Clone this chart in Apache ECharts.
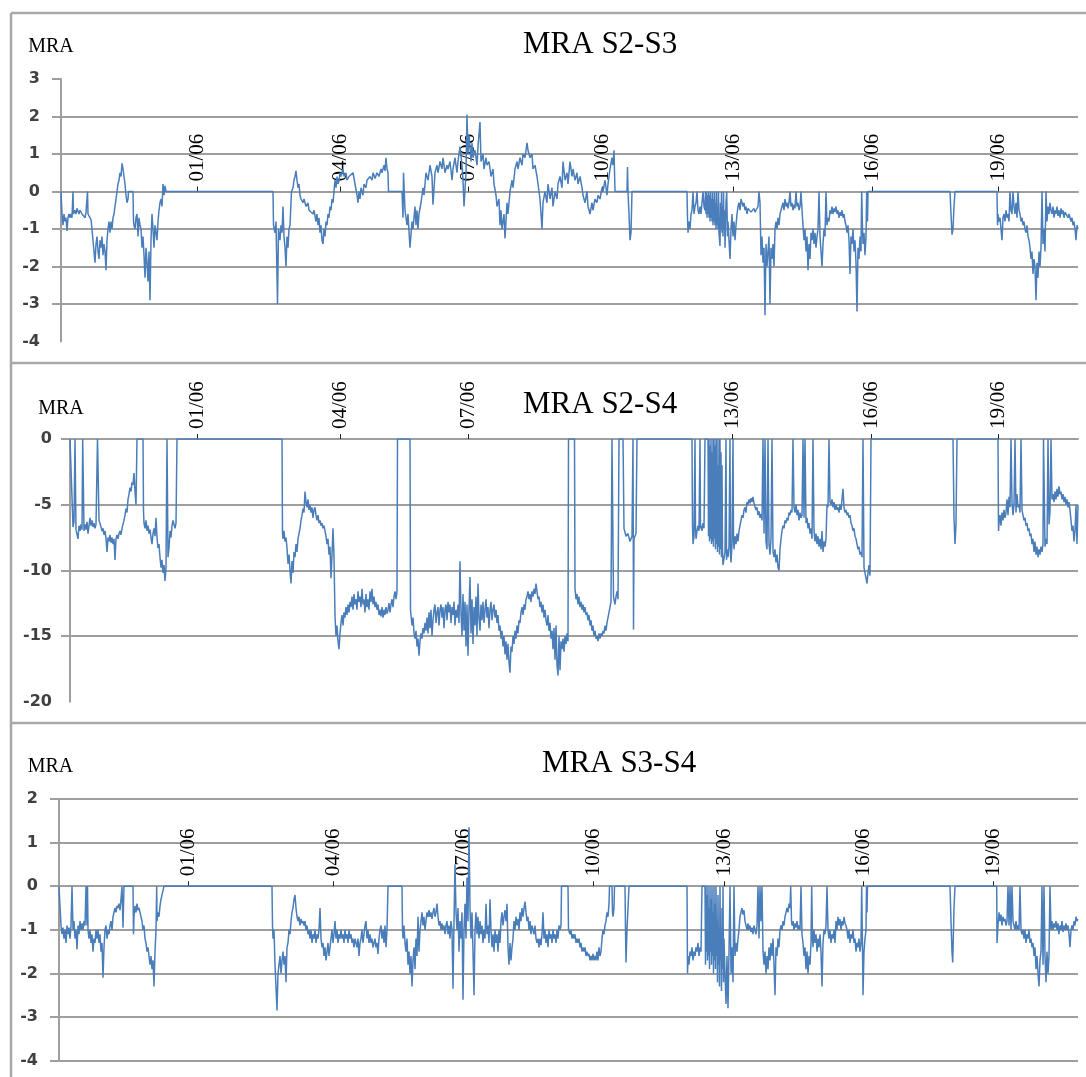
<!DOCTYPE html>
<html>
<head>
<meta charset="utf-8">
<script src="https://cdn.jsdelivr.net/npm/echarts@6/dist/echarts.min.js"></script>
<style>
html,body{margin:0;padding:0;background:#fff;}
#chart{width:1086px;height:1077px;}
</style>
</head>
<body>
<div id="chart"></div>
<script>
// ---- data ----
const titles = ['MRA S2-S3', 'MRA S2-S4', 'MRA S3-S4'];
const yName = 'MRA';
const dayLabels = ['01/06', '04/06', '07/06', '10/06', '13/06', '16/06', '19/06'];
// sample index of the first sample of each labelled day, per series
const dayIdx23 = [136, 279, 407, 541, 672, 811, 937];
const dayIdx24 = [127, 270, 398, 532, 662, 801, 928];
const dayIdx34 = [129, 274, 404, 534, 665, 804, 934];
// day labels hidden behind the chart title (middle panel)
const hiddenDays = [[], ['10/06'], []];
const sampleCount = [1017, 1008, 1019];
const yMin = [-4, -20, -4];
const yMax = [3, 0, 2];
const yStep = [1, 5, 1];

// [sample index, MRA]
const s23 = [
[0,0],[1,-0.6],[2,-0.9],[3,-0.6],[4,-0.8],[5,-0.7],[6,-1.05],[7,-0.7],[8,-0.6],[9,-0.7],[10,-0.6],[11,-0.7],[12,0],[12.5,-0.6],[14,-0.5],[15,-0.6],[16,-0.45],[18,-0.6],[19,-0.5],[21,-0.6],[22,-0.55],[24,-0.7],[25,-0.55],[26,-0.5],[26.5,0],[27,-0.6],[29,-0.65],[30,-0.75],[31,-1.0],[32,-1.3],[33,-1.6],[34,-1.9],[35,-1.4],[36,-1.2],[37,-1.6],[38,-1.8],[39,-1.3],[40,-1.5],[41,-1.2],[42,-1.7],[43,-1.4],[44,-1.6],[45,-2.1],[46,-1.3],[47,-1.0],[48,-0.8],[49,-1.1],[50,-0.8],[51,-1.0],[52,-0.7],[53,-0.6],[54,-0.4],[55,-0.2],[56,0],[57,0.2],[58,0.3],[59,0.5],[60,0.4],[61,0.75],[62,0.6],[63,0.4],[64,0.2],[65,-0.1],[66,-0.3],[67,-0.2],[67.5,0],[72,0],[72.5,-0.8],[73,-0.9],[74,-1.0],[75,-0.7],[76,-0.6],[77,-1.2],[78,-0.7],[79,-0.9],[80,-1.0],[81,-1.5],[82,-1.2],[83,-1.7],[84,-2.3],[85,-1.5],[86,-1.9],[87,-2.4],[88,-1.6],[89,-2.9],[90,-1.3],[91,-0.6],[92,-1.0],[93,-1.5],[94,-0.9],[95,-1.1],[96,-1.3],[97,-0.8],[98,-0.5],[99,-0.3],[100,-0.2],[101,-0.4],[102,0.2],[103,-0.1],[104,0.15],[105,0],
[212,0],[212.5,-0.9],[214,-1.1],[215,-0.8],[216.5,-3.0],[217.5,-1.0],[219,-1.3],[220,-0.9],[221,-1.1],[222,-0.4],[223,-1.2],[224,-1.5],[225,-2.0],[226,-1.2],[227,-1.5],[228,-1.0],[229,-0.9],[230,-0.9],[230.5,0],[232,0.1],[233,0.3],[234,0.4],[235,0.55],[236,0.3],[237,0.1],[238,0.2],[239,-0.1],[240,-0.2],[242,-0.3],[243,-0.2],[245,-0.4],[247,-0.3],[248,-0.5],[250,-0.45],[252,-0.6],[253,-0.5],[255,-0.8],[256,-0.6],[257,-0.9],[258,-0.7],[259,-1.1],[260,-0.9],[261,-1.3],[262,-1.4],[263,-1.0],[264,-1.2],[265,-0.8],[266,-0.9],[267,-0.6],[268,-0.7],[269,-0.4],[270,-0.5],[271,-0.2],[272,-0.3],[273,0],[274,0.3],[275,0.1],[276,0.4],[277,0.2],[278,0.3],[279,0.5],[280,0.4],[282,0.6],[283,0.4],[285,0.5],[286,0.3],[288,0.4],[290,0.35],[292,0.5],[294,0.2],[296,-0.1],[297,-0.3],[298,0],[299,-0.2],[300,0.1],[302,-0.1],[303,0.2],[305,0.1],[306,0.3],[308,0.25],[309,0.4],[311,0.3],[312,0.5],[314,0.35],[316,0.5],[318,0.4],[320,0.6],[321,0.5],[323,0.7],[324,0.55],[325,0.9],[326,0.6],[327,0.5],[327.5,0],
[341,0],[342,-0.7],[342.5,0.5],[344,-0.5],[346,-0.9],[347,-0.6],[349,-1.5],[351,-0.8],[352,-1.0],[354,-0.4],[355,-0.9],[356,-0.5],[357,-1.0],[358,-0.6],[360,-0.3],[362,0.1],[363,-0.1],[365,0.5],[367,0.3],[369,0.7],[371,0.4],[372,-0.35],[374,0.5],[376,0.7],[377,0.5],[379,0.8],[381,0.6],[382,0.9],[384,0.5],[386,0.7],[387,0.6],[389,0.8],[391,0.3],[392,0.6],[394,0.9],[396,0.5],[397,0.8],[399,1.2],[401,0.7],[402,0.3],[403,-0.4],[405,0.5],[406,2.05],[407,1.0],[408,1.5],[410,0.8],[411,1.3],[412,0.9],[414,1.1],[416,0.7],[417,1.2],[419,1.85],[420,0.8],[422,1.0],[423,0.6],[425,0.9],[426,0.7],[428,0.8],[430,0.4],[432,0.6],[433,0.2],[435,-0.1],[436,-0.4],[438,-0.2],[439,-0.9],[440,-0.5],[441,-1.0],[443,-0.6],[444,-1.25],[446,-0.3],[447,-0.6],[449,0],[451,0.3],[452,0.1],[454,0.6],[456,0.8],[457,0.6],[459,0.9],[461,0.7],[462,1.0],[464,0.9],[466,1.3],[467,1.1],[469,0.9],[471,1.0],[472,0.6],[474,0.7],[476,0.4],[477,0.2],[479,-0.2],[481,-1.0],[482,-0.3],[484,0],[486,-0.3],[487,0.2],[489,-0.2],[491,0.1],[492,-0.4],[494,0],[496,-0.2],[497,0.2],[499,0.4],[501,0.1],[502,0.8],[504,0.3],[506,0.5],[507,0.2],[509,0.8],[511,0.4],[512,0.6],[514,0.3],[516,0.5],[517,0.2],[519,0.4],[521,0.1],[522,-0.1],[524,-0.3],[526,0],[527,-0.4],[529,-0.6],[531,-0.3],[532,-0.5],[534,-0.2],[536,-0.3],[537,-0.1],[539,-0.2],[541,0.1],[542,0],[544,0.3],[546,-0.1],[547,0.2],[549,0.6],[551,0.9],[552,0.7],[553,1.1],[554,0],
[566,0],[566.5,0.65],[567,0],[568,-0.6],[569,-1.3],[570,-1.1],[571,0],
[626,0],[626.5,-0.7],[627,-1.1],[628,-0.8],[629,-1.0],[630,-0.6],[631,-0.5],[632,0],[633,-0.6],[634,-0.4],[635,-0.3],[636,0],[637,-0.5],[638,-0.6],[639,-0.4],[640,-0.6],[641,-0.3],[642,0],[643,-0.4],[644,-0.5],[644.5,0],[645,-0.6],[645.5,0],[646,-0.7],[646.5,-0.1],[647,-0.6],[647.5,0],[648,-0.7],[648.5,-0.1],[649,-0.8],[649.5,0],[650,-0.7],[650.5,-0.2],[651,-0.8],[651.5,0],[652,-0.9],[652.5,-0.2],[653,-0.8],[653.5,0],[654,-0.9],[654.5,-0.3],[655,-1.0],[655.5,0],[656,-0.9],[656.5,-0.4],[657,-1.0],[657.5,0],[658,-1.1],[659,-1.45],[659.5,-0.3],[660,-1.0],[660.5,0],[661,-1.1],[661.5,-0.4],[662,-1.2],[662.5,0],[663,-1.0],[663.5,-0.5],[664,-1.5],[665,-0.3],[665.7,0],[666.5,-1.2],[667,-0.8],[668,-1.3],[669,-1.8],[670,-1.0],[671,-0.6],[672,-1.2],[673,-0.8],[674,-1.3],[675,-0.9],[676,-0.6],[677,-0.4],[678,-0.3],[679,-0.5],[680,-0.2],[681,-0.3],[682,-0.4],[683,-0.3],[684,-0.5],[685,-0.4],[686,-0.6],[687,-0.45],[688,-0.5],[689,-0.4],[690,-0.55],[691,-0.5],[692,-0.6],[693,-0.45],[694,-0.55],[695,-0.5],[696,-0.6],[697,-0.4],[698,0],[699,-0.3],[700,-1.7],[701,-1.2],[702,-1.9],[703,-1.5],[704,-3.3],[705,-1.4],[706,-2.0],[707,-1.6],[708,-1.2],[709,-3.0],[710,-1.5],[711,-1.8],[712,-1.4],[713,-2.0],[714,-1.0],[715,-0.8],[716,-1.0],[717,-0.7],[718,-0.9],[719,-0.6],[720,-0.5],[721,-0.4],[722,-0.3],[723,-0.5],[724,-0.2],[725,-0.4],[726,-0.3],[727,-0.45],[728,-0.3],[729,0],[730,-0.4],[731,-0.3],[732,-0.5],[733,-0.35],[734,-0.45],[735,0],[736,-0.4],[737,-0.3],[738,-0.5],[739,-0.4],[740,0],[741,-0.5],[742,-0.9],[743,-1.3],[744,-1.0],[745,-1.6],[746,-1.2],[747,-2.1],[748,-1.4],[749,-1.8],[750,-1.1],[751,-1.3],[752,-1.0],[753,-1.4],[754,-1.1],[755,-1.5],[756,-1.2],[757,-1.0],[758,0],[759,-1.2],[760,-1.6],[761,-2.0],[762,-1.4],[763,-1.0],[764,-1.2],[765,0],[766,-0.9],[767,-0.7],[768,-0.8],[769,-0.5],[770,-0.6],[771,-0.4],[772,-0.6],[773,-0.45],[774,-0.55],[775,-0.4],[776,-0.6],[777,-0.5],[778,-0.7],[779,-0.55],[780,-0.65],[781,-0.5],[782,-0.7],[783,-0.6],[784,-0.8],[785,-0.9],[786,-1.1],[787,-0.9],[788,-1.3],[789,-2.2],[790,-1.2],[791,-1.4],[792,-1.0],[793,-1.6],[794,-1.3],[795,-1.9],[796,-3.2],[797,-1.5],[798,-1.8],[799,-1.2],[800,-1.6],[800.7,0],[801.5,-1.0],[802,-1.4],[803,-1.1],[804,-1.7],[805,-1.2],[805.7,0],[806.5,-0.8],[807,0],
[889,0],[890,-0.6],[891,-1.15],[892,-1.0],[893,-0.4],[894,0],
[936,0],[936.5,-0.9],[937,-0.6],[938,-0.8],[939,-0.7],[940,-1.0],[941,-1.3],[942,-0.7],[943,-0.6],[944,-0.8],[945,-0.5],[946,-0.7],[947,-0.6],[948,-0.8],[949,0],[950,-0.5],[951,-0.6],[952,0],[953,-0.4],[954,-0.6],[955,-0.3],[956,-0.7],[957,0],[958,-0.5],[959,-0.6],[960,-0.8],[961,-0.7],[962,-0.9],[963,-0.8],[964,-1.0],[965,-1.1],[966,-0.9],[967,-1.2],[968,-1.3],[969,-1.5],[970,-1.8],[971,-1.6],[972,-2.2],[973,-1.8],[974,-2.0],[975,-2.9],[976,-1.9],[977,-2.3],[978,-1.6],[979,-2.0],[980,-1.5],[981,0],[982,-1.4],[983,-1.0],[984,-1.6],[985,0],[986,-0.8],[987,-0.4],[988,-0.6],[989,-0.3],[990,-0.5],[991,-0.6],[992,-0.4],[993,-0.7],[994,-0.5],[995,-0.6],[996,-0.4],[997,-0.65],[998,-0.5],[999,-0.7],[1000,-0.45],[1001,-0.6],[1002,-0.5],[1003,-0.7],[1004,-0.55],[1005,-0.6],[1006,-0.5],[1007,-0.7],[1008,-0.6],[1009,-0.7],[1010,-0.8],[1011,-0.7],[1012,-0.9],[1013,-0.8],[1014,-1.0],[1015,-1.3],[1016,-0.9],[1017,-1.0]
];

const s24 = [
[0,0],[2,0],[3,-6.7],[4,-6.3],[5,0],[6,-6.9],[7,-6.8],[8,-7.6],[9,-6.6],[10,-7.0],[11,-6.5],[12,-6.9],[12.7,0],[13.3,0],[14,-7.0],[15,-6.5],[16,-6.9],[17,-6.3],[18,-7.2],[19,-6.6],[20,-6.0],[21,-6.6],[22,-6.2],[23,-6.7],[24,-6.4],[25,-6.8],[26,-6.5],[27,-6.6],[27.5,0],[28.5,0],[29,-6.2],[30,-6.4],[31,-6.7],[32,-7.0],[33,-6.8],[34,-7.3],[35,-7.0],[36,-7.6],[37,-8.6],[38,-7.5],[39,-7.8],[40,-7.3],[41,-7.9],[42,-7.5],[43,-8.0],[44,-7.6],[45,-9.2],[46,-7.6],[47,-7.3],[48,-7.6],[49,-7.2],[50,-7.0],[51,-7.3],[52,-6.8],[53,-6.5],[54,-6.2],[55,-5.8],[56,-5.3],[57,-5.6],[58,-4.6],[59,-4.2],[60,-3.7],[61,-4.0],[62,-3.3],[63,-3.5],[64,-2.6],[65,-4.0],[66,-5.0],[67,0],[73,0],[73.5,-5.5],[74,-6.4],[75,-6.8],[76,-6.2],[77,-7.0],[78,-6.6],[79,-7.2],[80,-6.9],[81,-7.5],[82,-8.0],[83,-7.2],[84,-6.8],[85,-7.4],[86,-6.0],[87,-7.5],[88,-8.3],[89,-8.0],[90,-9.0],[91,-9.8],[92,-9.2],[93,-10.2],[94,-9.6],[95,-10.8],[96,-9.8],[97,0],[98,-9.0],[99,-8.3],[100,-7.0],[101,-7.5],[102,-6.6],[103,-6.2],[104,-6.5],[105,-6.8],[106,-6.4],[107,0],
[212,0],[212.5,-7.2],[213,-7.6],[214,-7.0],[215,-7.8],[216,-7.5],[217,-8.3],[218,-9.5],[219,-8.8],[220,-10.0],[221,-11.0],[222,-9.3],[223,-10.2],[224,-8.6],[225,-9.0],[226,-8.0],[227,-8.6],[228,-7.6],[229,-7.2],[230,-6.8],[231,-6.2],[232,-5.8],[233,-5.3],[234,-5.6],[235,-4.0],[236,-4.8],[237,-5.2],[238,-4.6],[239,-5.4],[240,-5.0],[241,-5.6],[242,-5.2],[243,-6.0],[244,-5.4],[245,-5.2],[246,-5.8],[247,-6.2],[248,-5.8],[249,-6.4],[250,-6.2],[251,-6.6],[252,-6.4],[253,-6.8],[254,-6.6],[255,-7.0],[256,-7.4],[257,-8.0],[258,-7.6],[259,-8.8],[260,-8.2],[261,-10.6],[262,-8.8],[263,-6.8],[264,-9.0],[265,-13.5],[266,-15.0],[267,-14.2],[268,-15.4],[269,-16.0],[270,-14.8],[271,-14.0],[272,-13.4],[273,-14.2],[274,-13.2],[275,-13.6],[276,-12.8],[277,-13.4],[278,-12.6],[279,-13.2],[280,-12.4],[281,-12.8],[282,-12.0],[283,-13.0],[284,-11.8],[285,-12.6],[286,-12.2],[287,-13.0],[288,-11.6],[289,-12.4],[290,-12.0],[291,-12.8],[292,-11.4],[293,-12.6],[294,-12.2],[295,-13.2],[296,-11.8],[297,-12.8],[298,-12.2],[299,-13.0],[300,-11.6],[301,-12.4],[302,-11.4],[303,-12.6],[304,-12.0],[305,-12.8],[306,-12.4],[307,-13.0],[308,-12.6],[309,-13.4],[310,-13.0],[311,-13.5],[312,-12.8],[313,-13.6],[314,-13.0],[315,-13.4],[316,-12.8],[317,-13.3],[318,-13.0],[319,-12.5],[320,-13.2],[321,-12.6],[322,-12.2],[323,-12.8],[324,-12.0],[325,-11.6],[326,-12.2],[327,-11.6],[327.5,0],
[340,0],[340.5,-13.0],[342,-14.2],[343,-13.6],[344,-14.8],[345,-15.2],[346,-14.6],[347,-15.8],[348,-15.2],[349,-16.5],[350,-15.4],[351,-14.8],[352,-15.2],[353,-14.4],[354,-14.8],[355,-14.0],[356,-14.6],[357,-13.6],[358,-14.8],[359,-13.2],[360,-14.4],[361,-13.0],[362,-15.0],[363,-13.8],[364,-13.0],[365,-12.6],[366,-14.0],[367,-13.2],[368,-12.8],[369,-14.2],[370,-13.0],[371,-12.6],[372,-13.6],[373,-12.8],[374,-14.4],[375,-13.0],[376,-12.6],[377,-13.8],[378,-12.4],[379,-13.2],[380,-12.6],[381,-14.0],[382,-12.8],[383,-13.4],[384,-12.4],[385,-14.2],[386,-13.0],[387,-13.6],[388,-12.6],[389,-14.0],[390,-9.3],[391,-13.2],[392,-15.0],[393,-11.8],[394,-14.6],[395,-12.4],[396,-15.8],[397,-12.6],[398,-16.5],[399,-13.0],[400,-10.5],[401,-14.8],[402,-12.2],[403,-15.6],[404,-12.8],[405,-14.2],[406,-12.0],[407,-15.0],[408,-11.0],[409,-13.6],[410,-14.6],[411,-12.6],[412,-13.8],[413,-12.4],[414,-14.0],[415,-13.0],[416,-12.2],[417,-13.6],[418,-12.8],[419,-14.4],[420,-13.0],[421,-12.4],[422,-13.8],[423,-13.0],[424,-12.6],[425,-13.6],[426,-13.0],[427,-14.0],[428,-13.4],[429,-14.6],[430,-14.2],[431,-15.2],[432,-14.6],[433,-15.8],[434,-15.0],[435,-16.4],[436,-15.4],[437,-16.8],[438,-15.6],[439,-17.0],[440,-17.8],[441,-15.8],[442,-16.2],[443,-15.0],[444,-15.6],[445,-14.6],[446,-15.2],[447,-14.2],[448,-14.8],[449,-13.8],[450,-14.0],[451,-13.2],[452,-12.8],[453,-13.4],[454,-12.6],[455,-13.0],[456,-12.2],[457,-12.0],[458,-11.6],[459,-12.2],[460,-11.8],[461,-12.4],[462,-11.6],[463,-12.0],[464,-11.4],[465,-11.8],[466,-11.0],[467,-11.6],[468,-12.2],[469,-12.0],[470,-12.8],[471,-12.4],[472,-13.2],[473,-12.6],[474,-13.6],[475,-13.0],[476,-13.8],[477,-14.2],[478,-13.4],[479,-14.6],[480,-14.0],[481,-15.2],[482,-14.6],[483,-16.0],[484,-14.4],[485,-16.8],[486,-14.2],[487,-17.2],[488,-18.0],[489,-15.0],[490,-17.6],[491,-15.4],[492,-16.0],[493,-15.2],[494,-16.2],[495,-15.0],[496,-15.6],[497,-14.8],[498,-15.4],[498.5,0],[504.5,0],[505,-11.4],[506,-12.2],[507,-11.8],[508,-12.6],[509,-12.0],[510,-12.8],[511,-12.4],[512,-13.0],[513,-12.6],[514,-13.2],[515,-12.8],[516,-13.4],[517,-13.2],[518,-13.8],[519,-13.4],[520,-14.2],[521,-13.8],[522,-14.6],[523,-14.2],[524,-15.0],[525,-14.6],[526,-15.2],[527,-15.0],[528,-15.4],[529,-14.8],[530,-15.2],[531,-14.8],[532,-15.0],[533,-14.6],[534,-14.8],[535,-14.2],[536,-14.6],[537,-14.0],[538,-13.6],[539,-13.2],[540,-12.8],[541,-12.4],[542,0],[543,0],[543.5,-12.0],[545,-12.6],[546,-12.0],[547,-11.6],[548,-12.2],[549,0],[553,0],[554,-6.8],[556,-7.4],[558,-7.2],[560,-7.8],[562,-7.4],[563,0],[563.5,-14.5],[564,-7.6],[566,-7.2],[567,0],
[622,0],[622.5,-6.5],[623,-8.0],[624,-7.4],[625,0],[625.5,-6.8],[626,-7.6],[627,-7.0],[628,-6.6],[629,-7.0],[630,0],[630.5,-6.8],[631,-6.6],[632,-7.0],[633,-6.4],[634,-6.8],[635,0],[638,0],[638.5,-7.4],[639,0],[639.5,-7.8],[640,-0.5],[640.5,-7.6],[641,0],[641.5,-8.0],[642,-1],[642.5,-7.8],[643,0],[643.5,-8.2],[644,0],[644.5,-7.6],[645,-0.5],[645.5,-8.4],[646,0],[646.5,-8.0],[647,0],[647.5,-8.6],[648,-2],[648.5,-8.2],[649,0],[649.5,-8.8],[650,0],[650.5,-8.4],[651,-1],[651.5,-9.0],[652,-2],[652.5,-8.6],[653,-9.6],[654,-9.6],[655,-8.6],[656,0],[656.5,-9.2],[657,-8.4],[658,-9.0],[659,-8.2],[660,0],[660.5,-8.8],[661,-9.4],[662,-8.0],[663,0],[663.5,-7.6],[664,-8.4],[665,-7.4],[666,-8.0],[667,-7.2],[668,-7.8],[669,-7.0],[670,-6.6],[671,-6.2],[672,-5.8],[673,-6.0],[674,-5.4],[675,-5.2],[676,-5.6],[677,-4.8],[678,-5.0],[679,-4.6],[680,-4.9],[681,-4.5],[682,-4.8],[683,-4.4],[684,-4.9],[685,-5.0],[686,-5.4],[687,-5.2],[688,-5.8],[689,-5.5],[690,-6.0],[691,-5.7],[692,-6.2],[693,0],[694,-7.2],[695,0],[696,-7.8],[697,-8.4],[698,0],[699,-8.0],[700,-8.8],[701,-7.6],[702,0],[703,-8.6],[704,-9.0],[705,-8.4],[706,-9.4],[707,-8.8],[708,-9.8],[709,-10.0],[710,-8.4],[711,-7.6],[712,-7.0],[713,-6.6],[714,-6.8],[715,-6.2],[716,-6.4],[717,-6.0],[718,-6.2],[719,-5.6],[720,-5.8],[721,-5.4],[722,-5.6],[723,0],[724,-5.2],[725,-5.6],[726,-5.0],[727,-5.8],[728,-5.4],[729,-6.2],[730,-5.6],[731,-6.0],[732,-5.8],[733,0],[734,-6.0],[735,0],[736,-6.4],[737,-6.0],[738,-6.8],[739,-6.4],[740,-7.2],[741,-6.8],[742,-7.6],[743,0],[744,-7.0],[745,-7.8],[746,-7.2],[747,-8.0],[748,-7.4],[749,-8.2],[750,-7.6],[751,-8.4],[752,-7.0],[753,-8.6],[754,-7.8],[755,-8.2],[756,-7.6],[757,-5.0],[758,-5.2],[759,0],[760,-4.8],[761,-5.0],[762,-4.6],[763,-5.2],[764,-4.8],[765,-5.4],[766,-5.0],[767,-5.4],[768,-5.2],[769,-5.6],[770,-5.0],[771,-5.4],[772,-4.6],[773,-3.8],[774,-5.2],[775,-5.6],[776,-5.4],[777,-5.8],[778,-5.6],[779,-6.0],[780,-5.8],[781,-6.4],[782,-6.6],[783,-7.0],[784,-6.8],[785,-7.4],[786,-7.6],[787,-8.0],[788,-8.4],[789,-8.2],[790,-8.8],[791,-8.6],[792,-9.0],[793,0],[794,-9.8],[795,-10.2],[796,-10.6],[797,-11.0],[798,-10.2],[799,-9.6],[800,-10.4],[801,0],
[883,0],[884,-6.0],[885,-8.0],[886,-6.5],[887,0],
[928,0],[928.5,-7.0],[929,-6.4],[930,-5.8],[931,-6.6],[932,-5.6],[933,-6.2],[934,-5.4],[935,-6.0],[936,-5.6],[937,-4.6],[938,-5.8],[939,-4.4],[940,-5.2],[941,0],[942,-4.8],[943,-5.8],[944,-5.0],[945,0],[946,-5.6],[947,-4.2],[948,-5.2],[949,-5.0],[950,-5.6],[951,0],[952,-5.4],[953,-5.8],[954,-6.2],[955,-6.0],[956,-6.6],[957,-6.4],[958,-7.0],[959,-6.8],[960,-7.4],[961,-7.2],[962,-8.0],[963,-7.6],[964,-8.6],[965,-7.8],[966,-8.8],[967,-8.2],[968,-9.0],[969,-8.4],[970,-8.8],[971,-8.2],[972,-8.6],[973,-8.0],[973.5,0],[975,-8.2],[976,-7.6],[977,-8.0],[978,0],[979,-6.5],[980,-5.5],[981,0],[982,-4.6],[983,-4.2],[984,-4.8],[985,-4.0],[986,-4.6],[987,-3.8],[988,-4.4],[989,-3.6],[990,-4.2],[991,-4.0],[992,-4.6],[993,-4.2],[994,-4.8],[995,-4.4],[996,-5.0],[997,-4.6],[998,-5.2],[999,-4.8],[1000,-5.4],[1001,-6.2],[1002,-7.0],[1003,-6.6],[1004,-7.8],[1005,-7.0],[1006,-5.0],[1007,-8.0],[1008,-5.0]
];

const s34 = [
[0,0],[1,0],[2,-0.9],[3,-1.1],[4,-0.95],[5,-1.2],[6,-1.0],[7,-1.3],[8,-0.9],[9,-1.1],[10,-0.95],[11,-1.2],[12,-0.9],[13,0],[14,-1.0],[15,-0.8],[16,-1.2],[17,-1.0],[18,-1.45],[19,-0.9],[20,-1.1],[21,-0.8],[22,-1.0],[23,-0.85],[24,-1.0],[25,-0.8],[26,-0.9],[27,0],[28,-0.9],[28.5,0],[29,-1.0],[30,-1.2],[31,-1.0],[32,-1.3],[33,-1.1],[34,-1.5],[35,-1.2],[36,-1.3],[37,-1.0],[38,-1.2],[39,-1.0],[40,-1.3],[41,-1.1],[42,-1.5],[43,-1.3],[44,-2.1],[45,-1.4],[46,-1.0],[47,-0.9],[48,-1.2],[49,-1.0],[50,-1.1],[51,-0.9],[52,-0.8],[53,-1.0],[54,-0.7],[55,-0.6],[56,-0.5],[57,-0.6],[58,-0.45],[59,-0.5],[60,-0.4],[61,-0.55],[62,-0.3],[63,0],[64,-0.95],[65,0],[74,0],[74.5,-1.1],[75,-0.7],[76,-0.45],[77,-0.6],[78,-0.4],[79,-0.55],[80,-0.5],[81,-0.6],[82,-0.7],[83,-0.8],[84,-1.0],[85,-0.9],[86,-1.2],[87,-1.3],[88,-1.5],[89,-1.4],[90,-1.6],[91,-1.8],[92,-1.6],[93,-1.9],[94,-1.7],[95,-2.3],[96,-1.5],[97,-1.0],[97.7,0],[98,-0.8],[99,-0.6],[100,-0.7],[101,-0.45],[102,-0.3],[103,-0.2],[104,-0.1],[105,0],
[213,0],[213.5,-0.9],[214,-1.2],[215,-1.0],[216,-1.8],[217,-2.3],[218,-2.85],[219,-2.0],[220,-1.8],[221,-1.6],[222,-2.0],[223,-1.7],[224,-1.5],[225,-1.8],[226,-1.6],[227,-2.2],[228,-1.4],[229,-1.3],[230,-1.0],[231,-1.1],[232,-0.8],[233,-0.6],[234,-0.5],[235,-0.3],[236,-0.2],[237,-0.5],[238,-0.7],[239,-0.8],[240,-0.7],[241,-0.9],[242,-0.75],[243,-0.85],[244,-0.8],[245,-0.9],[246,-0.8],[247,-1.0],[248,-0.9],[249,-1.1],[250,-1.0],[251,-1.2],[252,-1.0],[253,-1.3],[254,-1.1],[255,-1.2],[256,-1.0],[257,-1.3],[258,-1.1],[259,-1.2],[260,-1.0],[261,-0.5],[262,-1.2],[263,-1.4],[264,-1.3],[265,-1.6],[266,-1.4],[267,-1.7],[268,-1.5],[269,-1.3],[270,-1.6],[271,-1.4],[272,-1.2],[273,-1.0],[274,-1.3],[275,-1.1],[276,-0.8],[277,-1.2],[278,-1.0],[279,-1.3],[280,-1.1],[281,-1.2],[282,-1.0],[283,-1.2],[284,-1.1],[285,-1.3],[286,-1.0],[287,-1.2],[288,-1.1],[289,-1.3],[290,-1.0],[291,-1.2],[292,-1.1],[293,-1.3],[294,-1.2],[295,-1.4],[296,-1.2],[297,-1.3],[298,-1.4],[299,-1.2],[300,-1.6],[301,-1.3],[302,-1.2],[303,-1.0],[304,-1.3],[305,-1.1],[306,-0.9],[307,-0.8],[308,-1.2],[309,-1.0],[310,-1.3],[311,-1.1],[312,-1.3],[313,-1.2],[314,-1.4],[315,-1.3],[316,-1.2],[317,-1.4],[318,-1.3],[319,-1.55],[320,-1.2],[321,-1.0],[322,-0.9],[323,-1.2],[324,-1.0],[325,-1.3],[326,-0.9],[327,-1.4],[328,-1.0],[329,0],
[343,0],[343.5,-1.0],[344,-1.2],[345,-0.9],[346,-1.3],[347,-1.5],[348,-1.2],[349,-1.8],[350,-1.5],[351,-2.0],[352,-1.6],[353,-2.3],[354,-1.7],[355,-1.4],[356,-1.9],[357,-1.2],[358,-1.6],[359,-0.7],[360,-1.5],[361,-1.0],[362,-0.8],[363,-0.6],[364,-0.9],[365,-0.7],[366,-1.0],[367,-0.8],[368,-0.6],[369,-0.7],[370,-0.55],[371,-0.7],[372,-0.6],[373,-0.75],[374,-0.6],[375,-0.5],[376,-0.7],[377,-0.6],[378,-0.4],[379,-0.7],[380,-0.9],[381,-0.8],[382,-1.0],[383,-0.85],[384,-1.0],[385,-0.9],[386,-1.1],[387,-0.9],[388,-0.8],[389,-1.1],[390,-0.9],[391,-1.2],[392,-0.8],[393,-1.0],[394,-2.35],[395,-0.8],[396,0.5],[397,-0.6],[398,-1.0],[399,-0.5],[400,-1.5],[401,-0.8],[402,-1.2],[403,-0.6],[404,-2.6],[405,-1.0],[406,-0.4],[407,-1.2],[408,0.2],[409,-0.8],[410,1.35],[411,-0.5],[412,-1.2],[413,-0.6],[414,-1.5],[415,-2.5],[416,-1.0],[417,-0.6],[418,-1.1],[419,-0.7],[420,-1.2],[421,-0.8],[422,-1.1],[423,-0.9],[424,-1.3],[425,-1.0],[426,-1.2],[427,-0.4],[428,-1.1],[429,-0.9],[430,-1.3],[431,-0.3],[432,-1.0],[433,-1.4],[434,-1.1],[435,-1.5],[436,-1.0],[437,-1.3],[438,-1.1],[439,-1.5],[440,-1.0],[441,-1.3],[442,-0.8],[443,-0.6],[444,-0.9],[445,-0.7],[446,-0.55],[447,-0.8],[448,-0.4],[449,-1.4],[450,-1.8],[451,-1.3],[452,-1.7],[453,-1.4],[454,-1.2],[455,-0.8],[456,-1.0],[457,-0.7],[458,-0.9],[459,-0.75],[460,-1.0],[461,-0.6],[462,-0.8],[463,-0.5],[464,-0.7],[465,-0.5],[466,-0.35],[467,-0.6],[468,-0.8],[469,-0.7],[470,-1.0],[471,-0.8],[472,-1.1],[473,-0.9],[474,-1.0],[475,-1.1],[476,-0.9],[477,-1.2],[478,-1.3],[479,-1.2],[480,-1.4],[481,-1.2],[482,-1.35],[483,-1.1],[484,-0.6],[485,-1.2],[486,-1.0],[487,-1.3],[488,-1.1],[489,-1.4],[490,-1.0],[491,-1.2],[492,-1.1],[493,-1.3],[494,-1.0],[495,-1.2],[496,-1.1],[497,-1.3],[498,-1.0],[499,-1.2],[500,-0.9],[501,-1.0],[502,-0.9],[502.5,0],[509,0],[509.5,-1.0],[510,-1.0],[511,-1.1],[512,-1.0],[513,-1.2],[514,-1.1],[515,-1.2],[516,-1.1],[517,-1.3],[518,-1.2],[519,-1.3],[520,-1.2],[521,-1.4],[522,-1.3],[523,-1.5],[524,-1.4],[525,-1.5],[526,-1.4],[527,-1.6],[528,-1.5],[529,-1.6],[530,-1.55],[531,-1.7],[532,-1.6],[533,-1.7],[534,-1.55],[535,-1.7],[536,-1.6],[537,-1.7],[538,-1.5],[539,-1.7],[540,-1.4],[541,-1.6],[542,-1.5],[543,-1.2],[544,-1.0],[545,-1.1],[546,-0.9],[547,-0.8],[548,-0.6],[549,-0.7],[550,-0.4],[550.5,0],[553,0],[553.5,-0.6],[554,-0.7],[555,-0.5],[555.5,0],[566,0],[566.5,-1.0],[567,-1.75],[568,-1.0],[569,-1.0],[570,0],
[628,0],[628.5,-2.0],[629,-1.6],[630,-1.8],[631,-1.5],[632,-1.6],[633,-1.4],[634,-1.7],[635,-1.5],[636,-1.6],[637,-1.4],[638,-1.5],[639,-1.3],[640,-1.6],[641,-1.4],[642,-1.5],[643,0],[646,0],[646.5,-1.8],[647,0],[647.5,-1.5],[648,-0.2],[648.5,-1.7],[649,0],[649.5,-1.6],[650,-0.5],[650.5,-1.9],[651,0],[651.5,-1.5],[652,-0.3],[652.5,-1.8],[653,0],[653.5,-1.6],[654,-0.6],[654.5,-2.0],[655,0],[655.5,-1.7],[656,-0.4],[656.5,-1.9],[657,0],[657.5,-1.6],[658,-0.8],[658.5,-2.2],[659,-0.2],[659.5,-1.8],[660,-1.0],[660.5,-2.3],[661,0],[661.5,-1.7],[662,-1.0],[662.5,-2.4],[663,-0.5],[663.5,-1.9],[664,0],[664.5,-2.2],[665,-1.2],[666,-2.0],[667,-2.7],[668,-1.6],[669,-2.8],[670,-1.5],[671,0],[672,-2.0],[673,-1.4],[674,-2.2],[675,0],[676,-1.6],[677,-1.3],[678,-1.5],[679,-1.2],[680,-1.0],[681,-0.7],[682,-0.6],[683,-0.5],[684,-0.65],[685,-0.55],[686,-0.8],[687,-0.9],[688,-1.0],[689,-0.85],[690,-1.0],[691,-0.9],[692,-1.05],[693,-0.95],[694,-1.1],[695,-0.9],[696,-1.0],[697,-1.1],[698,-0.9],[699,0],[700,-1.2],[701,0],[702,-0.8],[703,0],[704,-1.5],[705,-1.8],[706,-1.5],[707,-2.0],[708,-1.6],[709,-1.9],[710,-1.4],[711,-1.7],[712,-1.3],[713,-1.6],[714,-1.2],[715,-1.8],[716,-2.5],[717,-1.4],[718,-1.6],[719,-1.2],[720,-1.4],[721,-1.0],[722,-0.9],[723,-1.0],[724,-0.8],[725,-0.9],[726,-0.7],[727,-0.6],[728,-0.5],[729,-0.6],[730,-0.4],[731,-0.5],[731.7,0],[732.5,-0.8],[733,-0.9],[734,-0.8],[735,-1.0],[736,-0.85],[737,-0.95],[738,-0.8],[739,-1.0],[740,-0.9],[741,-1.0],[742,0],[743,-1.1],[744,-1.3],[745,-1.6],[746,-1.4],[747,-1.9],[748,-1.5],[749,-2.0],[750,-1.6],[751,-1.8],[752,-1.3],[752.7,0],[753.5,-1.2],[754,-1.4],[755,-1.0],[756,-1.3],[757,-1.1],[758,-1.5],[759,-1.2],[760,-1.4],[761,-1.1],[762,-1.5],[763,-2.3],[764,-1.3],[765,-1.0],[766,-1.1],[767,-0.9],[768,0],[769,-1.0],[770,-1.2],[771,-1.0],[772,-1.3],[773,-1.1],[774,-1.2],[775,-1.0],[776,-1.3],[777,-0.8],[778,-1.0],[779,-0.7],[780,-0.9],[781,-0.75],[782,-1.0],[783,-0.8],[784,-0.9],[785,-0.7],[786,-0.85],[787,-0.9],[788,-1.0],[789,-1.2],[790,-1.0],[791,-1.3],[792,-1.1],[793,-1.2],[794,-1.0],[795,-1.3],[796,-1.2],[797,-1.5],[798,-1.3],[799,-1.4],[800,-1.2],[801,-1.5],[802,-1.3],[802.7,0],[803.5,-1.4],[804,-2.5],[805,-1.5],[806,-1.2],[807,-1.0],[807.5,0],[808,-0.6],[808.5,0],
[891,0],[892,-0.8],[893,-1.5],[893.7,-1.75],[894.5,-1.0],[895,-0.5],[896,0],
[937.7,0],[938,-1.3],[939,-0.9],[940,-0.6],[941,-0.8],[942,-0.65],[943,-0.9],[944,-0.7],[945,-0.8],[946,-0.75],[947,-0.9],[948,-0.8],[949,0],[950,-0.9],[951,0],[952,-1.0],[953,0],[954,-0.8],[955,-0.9],[956,-1.0],[957,-0.8],[958,-1.0],[959,-0.9],[960,-1.0],[961,0],[962,-1.0],[963,-1.1],[964,-1.0],[965,-1.2],[966,-1.0],[967,-1.3],[968,-1.1],[969,-1.2],[970,-1.0],[971,-1.3],[972,-1.2],[973,-1.4],[974,-1.3],[975,-1.6],[976,-1.4],[977,-1.9],[978,-1.6],[979,-2.0],[980,-2.3],[981,-1.7],[982,-1.5],[983,0],[984,-1.8],[985,0],[986,-1.6],[987,-2.2],[988,-1.5],[989,-2.0],[990,-1.6],[991,0],[992,-1.0],[993,-0.8],[994,-1.0],[995,-0.85],[996,-0.95],[997,-0.8],[998,-1.0],[999,-0.85],[1000,-1.1],[1001,-0.9],[1002,-1.0],[1003,-0.8],[1004,-1.05],[1005,-0.9],[1006,-1.0],[1007,-0.85],[1008,-1.0],[1009,-0.9],[1010,-1.1],[1011,-1.4],[1012,-1.0],[1013,-0.9],[1014,-1.0],[1015,-0.8],[1016,-0.9],[1017,-0.7],[1018,-0.8],[1019,-0.75]
];

const seriesData = [s23, s24, s34];
const dayIdx = [dayIdx23, dayIdx24, dayIdx34];

// ---- layout / style ----
const gridBoxes = [
  {left: 61, right: 8, top: 79, height: 262.5, nameGap: 22, namePad: 20, labelMargin: 21, minTick: false},
  {left: 70, right: 8, top: 439, height: 262.7, nameGap: 20, namePad: 18, labelMargin: 18, minTick: false},
  {left: 59, right: 8, top: 799, height: 261.7, nameGap: 22, namePad: 17, labelMargin: 21, minTick: true}
];
const titlePos = [{left: 518, top: 24}, {left: 518, top: 384}, {left: 537, top: 743}];
const gridColor = '#9e9e9e';
const lineColor = '#4a7ebb';
const borderColor = '#a8a8a8';

function yTicks(i) {
  const out = [];
  for (let v = yMax[i]; v >= yMin[i] - 1e-9; v -= yStep[i]) {
    if (v > yMin[i] + 1e-9 || gridBoxes[i].minTick) out.push(v);
  }
  return out;
}
function yLabels(i) {
  const out = [];
  for (let v = yMax[i]; v >= yMin[i] - 1e-9; v -= yStep[i]) out.push(v);
  return out;
}
function shownDayIdx(i) {
  return dayIdx[i].filter((v, k) => hiddenDays[i].indexOf(dayLabels[k]) < 0);
}

const chart = echarts.init(document.getElementById('chart'), null, {renderer: 'canvas'});

const option = {
  animation: false,
  backgroundColor: '#ffffff',
  title: titles.map((t, i) => ({
    text: t, left: titlePos[i].left, top: titlePos[i].top,
    textStyle: {fontFamily: 'Liberation Serif', fontSize: 31, fontWeight: 'normal', color: '#000'}
  })),
  grid: gridBoxes.map(g => ({left: g.left, right: g.right, top: g.top, height: g.height, containLabel: false})),
  xAxis: gridBoxes.map((g, i) => ({
    type: 'value', gridIndex: i, min: 0, max: sampleCount[i],
    position: 'top',
    // place the category axis on the zero line of the value axis
    offset: -g.height * yMax[i] / (yMax[i] - yMin[i]),
    axisLine: {show: true, onZero: false, lineStyle: {color: gridColor, width: 2}},
    splitLine: {show: false},
    axisTick: {show: true, inside: false, length: 5, customValues: shownDayIdx(i), lineStyle: {color: '#222', width: 1}},
    axisLabel: {
      show: true, inside: false, rotate: -90, margin: 10, customValues: shownDayIdx(i),
      formatter: v => { const k = dayIdx[i].indexOf(v); return k >= 0 ? dayLabels[k] : ''; },
      fontFamily: 'Liberation Serif', fontSize: 21, color: '#000'
    }
  })),
  yAxis: gridBoxes.map((g, i) => ({
    type: 'value', gridIndex: i, min: yMin[i], max: yMax[i], interval: yStep[i],
    name: yName, nameLocation: 'end', nameGap: g.nameGap,
    nameTextStyle: {fontFamily: 'Liberation Serif', fontSize: 20, color: '#000', padding: [0, g.namePad, 0, 0]},
    axisLine: {show: true, onZero: false, lineStyle: {color: gridColor, width: 2}},
    axisTick: {show: true, inside: false, length: 9, customValues: yTicks(i), lineStyle: {color: gridColor, width: 2}},
    splitLine: {show: true, showMinLine: g.minTick, lineStyle: {color: gridColor, width: 2}},
    axisLabel: {margin: g.labelMargin, customValues: yLabels(i), fontFamily: 'DejaVu Sans', fontWeight: 'bold', fontSize: 16, color: '#404040'}
  })),
  series: seriesData.map((d, i) => ({
    type: 'line', xAxisIndex: i, yAxisIndex: i, data: d,
    showSymbol: false, symbol: 'none', sampling: null,
    lineStyle: {color: lineColor, width: 1.5}, z: 3
  })),
  graphic: [
    {type: 'line', shape: {x1: 11, y1: 13, x2: 1086, y2: 13}, style: {stroke: borderColor, lineWidth: 2.5}},
    {type: 'line', shape: {x1: 11, y1: 363, x2: 1086, y2: 363}, style: {stroke: borderColor, lineWidth: 2.5}},
    {type: 'line', shape: {x1: 11, y1: 723, x2: 1086, y2: 723}, style: {stroke: borderColor, lineWidth: 2.5}},
    {type: 'line', shape: {x1: 11, y1: 13, x2: 11, y2: 1077}, style: {stroke: borderColor, lineWidth: 2.5}}
  ]
};
chart.setOption(option);
</script>
</body>
</html>
